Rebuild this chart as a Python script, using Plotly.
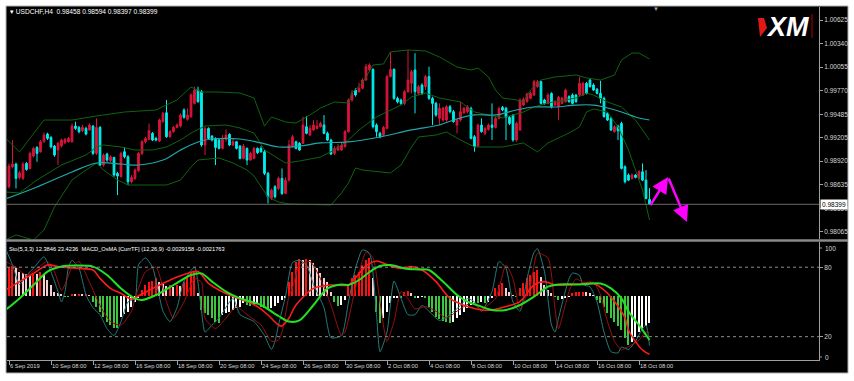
import plotly.graph_objects as go

# ---------------- data ----------------
bar_index = list(range(184))

opens = [
    0.98611, 0.98853, 0.98885, 0.98724, 0.98712, 0.98893, 0.98832, 0.98982, 0.99086, 0.99034,
    0.99155, 0.99248, 0.99207, 0.99102, 0.99054, 0.99102, 0.99143, 0.99155, 0.99155, 0.99344,
    0.99328, 0.99288, 0.99316, 0.99296, 0.99344, 0.99014, 0.99328, 0.98873, 0.99006, 0.98925,
    0.98965, 0.98772, 0.98732, 0.99034, 0.98973, 0.98671, 0.98712, 0.98804, 0.99014, 0.99155,
    0.99183, 0.99256, 0.99195, 0.99163, 0.99397, 0.99505, 0.99215, 0.99276, 0.99328, 0.99344,
    0.99538, 0.99425, 0.99457, 0.99618, 0.99779, 0.99759, 0.99115, 0.99316, 0.99223, 0.99195,
    0.99175, 0.99074, 0.99183, 0.99244, 0.99115, 0.99155, 0.99102, 0.98953, 0.99074, 0.98933,
    0.98953, 0.99074, 0.99074, 0.99034, 0.98772, 0.98470, 0.98611, 0.98591, 0.98712, 0.98530,
    0.98691, 0.99094, 0.99155, 0.99135, 0.99135, 0.99336, 0.99235, 0.99296, 0.99316, 0.99336,
    0.99356, 0.99256, 0.99175, 0.99014, 0.99054, 0.99054, 0.99094, 0.99276, 0.99659, 0.99779,
    0.99759, 0.99800, 0.99900, 1.00021, 1.00029, 0.99356, 0.99256, 0.99235, 0.99316, 0.99941,
    1.00029, 0.99679, 0.99659, 0.99618, 0.99759, 0.99860, 1.00021, 0.99739, 0.99840, 0.99820,
    0.99941, 0.99679, 0.99618, 0.99437, 0.99417, 0.99417, 0.99578, 0.99518, 0.99356, 0.99417,
    0.99505, 0.99518, 0.99558, 0.99215, 0.99102, 0.99356, 0.99256, 0.99304, 0.99356, 0.99328,
    0.99437, 0.99570, 0.99558, 0.99449, 0.99477, 0.99175, 0.99296, 0.99598, 0.99638, 0.99679,
    0.99719, 0.99820, 0.99880, 0.99659, 0.99618, 0.99739, 0.99598, 0.99578, 0.99618, 0.99638,
    0.99699, 0.99719, 0.99719, 0.99719, 0.99719, 0.99860, 0.99900, 0.99840, 0.99788, 0.99739,
    0.99679, 0.99497, 0.99437, 0.99276, 0.99344, 0.99376, 0.98853, 0.98752, 0.98712, 0.98752,
    0.98712, 0.98792, 0.98691, 0.98458,
]
closes = [
    0.98861, 0.98885, 0.98712, 0.98780, 0.98885, 0.98820, 0.99014, 0.99074, 0.99014, 0.99155,
    0.99235, 0.99195, 0.99094, 0.98994, 0.99135, 0.99175, 0.99183, 0.99195, 0.99344, 0.99316,
    0.99276, 0.99328, 0.99248, 0.99356, 0.99014, 0.99328, 0.98873, 0.98994, 0.98933, 0.98973,
    0.98752, 0.98740, 0.99014, 0.98973, 0.98671, 0.98724, 0.98812, 0.99014, 0.99155, 0.99195,
    0.99288, 0.99175, 0.99175, 0.99417, 0.99497, 0.99215, 0.99276, 0.99328, 0.99356, 0.99477,
    0.99449, 0.99477, 0.99719, 0.99779, 0.99638, 0.99115, 0.99316, 0.99195, 0.99175, 0.99086,
    0.99074, 0.99183, 0.99235, 0.99115, 0.99155, 0.99074, 0.98953, 0.99102, 0.98933, 0.99014,
    0.99074, 0.99022, 0.99034, 0.98772, 0.98490, 0.98570, 0.98490, 0.98712, 0.98530, 0.98691,
    0.99115, 0.99215, 0.99074, 0.99054, 0.99356, 0.99256, 0.99316, 0.99356, 0.99344, 0.99376,
    0.99256, 0.99175, 0.99006, 0.99074, 0.99094, 0.99115, 0.99276, 0.99659, 0.99739, 0.99719,
    0.99800, 0.99900, 1.00062, 1.00082, 0.99336, 0.99276, 0.99215, 0.99328, 0.99941, 1.00029,
    0.99679, 0.99638, 0.99618, 0.99759, 0.99900, 1.00001, 0.99759, 0.99820, 0.99739, 0.99941,
    0.99679, 0.99618, 0.99477, 0.99558, 0.99558, 0.99578, 0.99518, 0.99397, 0.99417, 0.99518,
    0.99558, 0.99578, 0.99195, 0.99094, 0.99356, 0.99276, 0.99316, 0.99356, 0.99328, 0.99437,
    0.99558, 0.99538, 0.99449, 0.99376, 0.99175, 0.99376, 0.99659, 0.99667, 0.99731, 0.99739,
    0.99880, 0.99880, 0.99618, 0.99618, 0.99719, 0.99578, 0.99638, 0.99691, 0.99679, 0.99779,
    0.99638, 0.99618, 0.99638, 0.99860, 0.99860, 0.99739, 0.99820, 0.99779, 0.99739, 0.99679,
    0.99457, 0.99417, 0.99296, 0.99336, 0.99288, 0.98832, 0.98671, 0.98691, 0.98752, 0.98724,
    0.98792, 0.98691, 0.98470, 0.98399,
]
highs = [
    0.98893, 0.99175, 0.98901, 0.98804, 0.98909, 0.98909, 0.99034, 0.99094, 0.99102, 0.99175,
    0.99264, 0.99264, 0.99223, 0.99115, 0.99155, 0.99191, 0.99199, 0.99215, 0.99376, 0.99397,
    0.99344, 0.99356, 0.99336, 0.99376, 0.99356, 0.99437, 0.99344, 0.99014, 0.99022, 0.98990,
    0.98973, 0.98792, 0.99034, 0.99086, 0.98994, 0.98752, 0.98832, 0.99034, 0.99175, 0.99215,
    0.99376, 0.99272, 0.99215, 0.99433, 0.99514, 0.99659, 0.99296, 0.99344, 0.99376, 0.99497,
    0.99558, 0.99558, 0.99739, 0.99820, 0.99820, 0.99779, 0.99336, 0.99328, 0.99235, 0.99207,
    0.99187, 0.99235, 0.99304, 0.99256, 0.99195, 0.99163, 0.99115, 0.99127, 0.99086, 0.99034,
    0.99094, 0.99086, 0.99102, 0.99054, 0.98792, 0.98591, 0.98631, 0.98732, 0.98832, 0.98724,
    0.99175, 0.99235, 0.99167, 0.99151, 0.99457, 0.99465, 0.99356, 0.99417, 0.99417, 0.99397,
    0.99477, 0.99276, 0.99191, 0.99102, 0.99127, 0.99143, 0.99296, 0.99679, 0.99779, 0.99800,
    0.99868, 0.99921, 1.00094, 1.00102, 1.00041, 0.99376, 0.99276, 0.99344, 0.99961, 1.00243,
    1.00041, 0.99699, 0.99675, 0.99779, 1.00263, 1.00021, 1.00223, 0.99840, 0.99860, 0.99961,
    1.00062, 0.99699, 0.99638, 0.99618, 0.99578, 0.99598, 0.99598, 0.99538, 0.99433, 0.99638,
    0.99578, 0.99598, 0.99578, 0.99235, 0.99376, 0.99437, 0.99336, 0.99376, 0.99618, 0.99457,
    0.99578, 0.99586, 0.99578, 0.99465, 0.99489, 0.99397, 0.99679, 0.99691, 0.99747, 0.99759,
    0.99900, 0.99900, 0.99892, 0.99675, 0.99739, 0.99751, 0.99659, 0.99707, 0.99699, 0.99796,
    0.99715, 0.99739, 0.99731, 0.99941, 0.99880, 0.99876, 0.99917, 0.99860, 0.99804, 0.99892,
    0.99699, 0.99514, 0.99457, 0.99356, 0.99360, 0.99397, 0.98869, 0.98772, 0.98772, 0.98764,
    0.98812, 0.98893, 0.98812, 0.98594,
]
lows = [
    0.98591, 0.98832, 0.98591, 0.98699, 0.98691, 0.98804, 0.98820, 0.98965, 0.98913, 0.99022,
    0.99143, 0.99175, 0.99074, 0.98973, 0.98873, 0.99086, 0.99127, 0.99143, 0.99143, 0.99296,
    0.99256, 0.99272, 0.99231, 0.99288, 0.98994, 0.98994, 0.98861, 0.98853, 0.98913, 0.98909,
    0.98732, 0.98510, 0.98724, 0.98953, 0.98631, 0.98651, 0.98691, 0.98792, 0.98994, 0.99135,
    0.99175, 0.99163, 0.99159, 0.99151, 0.99385, 0.99203, 0.99203, 0.99264, 0.99316, 0.99328,
    0.99433, 0.99409, 0.99445, 0.99606, 0.99626, 0.99094, 0.98994, 0.99183, 0.99159, 0.98873,
    0.99062, 0.99062, 0.99155, 0.99102, 0.99102, 0.99062, 0.98941, 0.98941, 0.98873, 0.98925,
    0.98941, 0.99006, 0.99022, 0.98752, 0.98409, 0.98450, 0.98470, 0.98570, 0.98510, 0.98522,
    0.98671, 0.99086, 0.99062, 0.99046, 0.99127, 0.99244, 0.99223, 0.99288, 0.99304, 0.99328,
    0.99244, 0.99163, 0.98994, 0.98994, 0.99042, 0.99046, 0.99086, 0.99264, 0.99638, 0.99699,
    0.99747, 0.99788, 0.99892, 1.00001, 0.99316, 0.99215, 0.99195, 0.99215, 0.99304, 0.99933,
    0.99659, 0.99618, 0.99598, 0.99598, 0.99747, 0.99739, 0.99497, 0.99719, 0.99719, 0.99779,
    0.99659, 0.99356, 0.99457, 0.99356, 0.99397, 0.99397, 0.99497, 0.99385, 0.99256, 0.99397,
    0.99489, 0.99497, 0.99183, 0.99034, 0.99094, 0.99264, 0.99235, 0.99288, 0.99175, 0.99316,
    0.99425, 0.99522, 0.99175, 0.99356, 0.99155, 0.99155, 0.99288, 0.99586, 0.99626, 0.99667,
    0.99707, 0.99808, 0.99606, 0.99602, 0.99606, 0.99558, 0.99586, 0.99417, 0.99606, 0.99626,
    0.99626, 0.99606, 0.99626, 0.99707, 0.99707, 0.99727, 0.99808, 0.99767, 0.99727, 0.99618,
    0.99445, 0.99405, 0.99284, 0.99264, 0.99175, 0.98820, 0.98651, 0.98679, 0.98699, 0.98712,
    0.98699, 0.98679, 0.98458, 0.98397,
]

# Bollinger-type envelope (dark green) and moving average (teal), read at sample bars
band_upper_x = [-1, 3, 10, 18, 25, 33, 42, 48, 52, 55, 60, 66, 70, 73, 75, 79, 82, 86, 89, 93, 97, 98,
                101, 104, 107, 109, 114, 119, 123, 128, 132, 134, 137, 139, 141, 145, 147, 149, 152,
                156, 162, 165, 169, 173, 175, 178, 180, 183]
band_upper = [0.99200, 0.99031, 0.99417, 0.99417, 0.99466, 0.99514, 0.99538, 0.99659, 0.99816, 0.99755,
              0.99755, 0.99743, 0.99683, 0.99345, 0.99454, 0.99393, 0.99381, 0.99478, 0.99562, 0.99635,
              0.99623, 0.99743, 0.99864, 1.00082, 1.00094, 1.00239, 1.00263, 1.00251, 1.00178, 1.00057,
              1.00021, 1.00045, 0.99937, 0.99780, 0.99683, 0.99659, 0.99635, 0.99780, 0.99900, 0.99937,
              0.99961, 0.99925, 0.99900, 0.99961, 1.00142, 1.00226, 1.00226, 1.00154]
band_mid_x = [-1, 3, 8, 15, 22, 25, 27, 32, 36, 41, 45, 49, 52, 56, 62, 66, 70, 73, 79, 83, 89, 93, 97,
              100, 105, 108, 112, 115, 119, 123, 129, 133, 141, 147, 150, 154, 162, 165, 167, 171, 175,
              179, 183]
band_mid = [0.98548, 0.98536, 0.98693, 0.98874, 0.98995, 0.99091, 0.99115, 0.99091, 0.99055, 0.99055,
            0.99091, 0.99176, 0.99260, 0.99345, 0.99357, 0.99321, 0.99260, 0.99055, 0.98898, 0.98922,
            0.98970, 0.99055, 0.99176, 0.99297, 0.99454, 0.99514, 0.99598, 0.99695, 0.99743, 0.99683,
            0.99635, 0.99514, 0.99442, 0.99514, 0.99574, 0.99623, 0.99683, 0.99743, 0.99719, 0.99635,
            0.99574, 0.99417, 0.99176]
band_lower_x = [-1, 2, 7, 10, 13, 18, 22, 25, 27, 31, 34, 45, 49, 52, 54, 60, 64, 68, 70, 74, 77, 80, 92,
                95, 97, 99, 101, 109, 112, 115, 117, 122, 125, 129, 133, 141, 147, 151, 154, 160, 163,
                165, 167, 171, 174, 177, 179, 181, 183]
band_lower = [0.97968, 0.98029, 0.97968, 0.98089, 0.98367, 0.98693, 0.98813, 0.98898, 0.98813, 0.98693,
              0.98632, 0.98632, 0.98693, 0.98850, 0.98934, 0.98958, 0.98898, 0.98813, 0.98741, 0.98487,
              0.98427, 0.98403, 0.98391, 0.98536, 0.98657, 0.98838, 0.98813, 0.98777, 0.98874, 0.99091,
              0.99212, 0.99236, 0.99272, 0.99176, 0.99091, 0.99091, 0.99140, 0.99031, 0.99140, 0.99260,
              0.99333, 0.99514, 0.99550, 0.99514, 0.99333, 0.99055, 0.98813, 0.98572, 0.98210]
ma_x = [-1, 8, 18, 25, 32, 37, 44, 49, 54, 58, 66, 72, 77, 83, 89, 97, 106, 115, 123, 127, 133, 139, 145,
        150, 156, 162, 167, 170, 175, 179, 183]
ma = [0.98463, 0.98608, 0.98789, 0.98898, 0.98886, 0.98874, 0.98934, 0.99055, 0.99152, 0.99188, 0.99188,
      0.99140, 0.99091, 0.99103, 0.99140, 0.99152, 0.99212, 0.99297, 0.99357, 0.99417, 0.99478, 0.99478,
      0.99538, 0.99574, 0.99574, 0.99598, 0.99598, 0.99574, 0.99514, 0.99454, 0.99417]

# MACD OsMA histogram (one value per bar)
osma = [
    0.00147, 0.00152, 0.00138, 0.00122, 0.00113, 0.00108, 0.00105, 0.00113, 0.00108, 0.00118,
    0.00108, 0.00080, 0.00055, 0.00022, 0.00013, 0.00008, -0.00002, -0.00003, 0.00008, 0.00007,
    0.00008, 0.00007, 0.00008, 0.00005, -0.00028, -0.00053, -0.00082, -0.00103, -0.00128, -0.00145,
    -0.00158, -0.00162, -0.00103, -0.00092, -0.00082, -0.00053, -0.00028, -0.00008, 0.00030, 0.00055,
    0.00072, 0.00075, 0.00088, 0.00072, 0.00058, 0.00052, 0.00055, 0.00047, 0.00055, 0.00052,
    0.00072, 0.00097, 0.00113, 0.00122, 0.00013, -0.00070, -0.00087, -0.00095, -0.00112, -0.00128,
    -0.00137, -0.00095, -0.00087, -0.00078, -0.00070, -0.00062, -0.00053, -0.00037, -0.00045, -0.00048,
    -0.00045, -0.00042, -0.00053, -0.00058, -0.00065, -0.00058, -0.00048, -0.00037, -0.00020, -0.00008,
    0.00072, 0.00122, 0.00172, 0.00185, 0.00180, 0.00185, 0.00180, 0.00163, 0.00138, 0.00113,
    0.00088, 0.00072, 0.00022, -0.00028, -0.00048, -0.00045, -0.00020, 0.00055, 0.00088, 0.00105,
    0.00122, 0.00155, 0.00180, 0.00188, 0.00088, -0.00078, -0.00137, -0.00112, -0.00078, -0.00037,
    -0.00012, -0.00008, -0.00012, 0.00018, 0.00025, 0.00013, -0.00012, -0.00008, -0.00003, -0.00012,
    -0.00053, -0.00078, -0.00103, -0.00115, -0.00125, -0.00132, -0.00137, -0.00132, -0.00112, -0.00095,
    -0.00078, -0.00062, -0.00045, -0.00037, -0.00037, -0.00028, -0.00037, -0.00028, -0.00012, 0.00038,
    0.00055, 0.00063, 0.00038, 0.00022, 0.00005, -0.00003, 0.00038, 0.00063, 0.00088, 0.00105,
    0.00122, 0.00130, 0.00097, 0.00055, 0.00030, 0.00013, -0.00003, -0.00020, -0.00017, -0.00012,
    -0.00003, 0.00013, 0.00018, 0.00022, 0.00022, 0.00018, 0.00013, 0.00005, -0.00020, -0.00037,
    -0.00053, -0.00087, -0.00112, -0.00132, -0.00148, -0.00170, -0.00212, -0.00245, -0.00228, -0.00203,
    -0.00178, -0.00158, -0.00148, -0.00137,
]
macd_x = [-1, 3, 7, 11, 14, 17, 20, 24, 26, 29, 32, 35, 38, 43, 47, 51, 54, 57, 60, 64, 68, 71, 74, 77,
          78, 80, 82, 87, 92, 97, 99, 102, 105, 109, 112, 115, 118, 122, 126, 131, 135, 138, 142, 146,
          150, 153, 156, 160, 162, 167, 170, 173, 176, 177, 179, 181, 183]
macd_main = [0.00030, 0.00072, 0.00113, 0.00155, 0.00147, 0.00142, 0.00138, 0.00130, 0.00088, 0.00038,
             0.00013, -0.00015, 0.00010, 0.00055, 0.00088, 0.00113, 0.00122, 0.00063, 0.00030, -0.00003,
             -0.00028, -0.00053, -0.00095, -0.00145, -0.00150, -0.00110, -0.00045, 0.00038, 0.00055,
             0.00055, 0.00090, 0.00150, 0.00175, 0.00150, 0.00138, 0.00147, 0.00130, 0.00072, -0.00012,
             -0.00053, -0.00070, -0.00070, -0.00053, -0.00028, 0.00055, 0.00072, 0.00055, 0.00055,
             0.00058, 0.00063, 0.00030, -0.00028, -0.00110, -0.00170, -0.00228, -0.00270, -0.00292]
signal_x = [-1, 3, 7, 11, 15, 19, 24, 28, 32, 36, 38, 42, 47, 52, 55, 58, 62, 66, 72, 77, 80, 83, 87, 91,
            95, 97, 100, 103, 106, 109, 113, 117, 120, 124, 128, 131, 135, 138, 142, 146, 150, 154, 157,
            163, 169, 172, 175, 177, 180, 182, 183]
macd_signal = [-0.00070, -0.00012, 0.00055, 0.00122, 0.00147, 0.00152, 0.00147, 0.00105, 0.00038,
               -0.00012, -0.00020, 0.00005, 0.00055, 0.00105, 0.00113, 0.00072, 0.00022, -0.00012,
               -0.00045, -0.00100, -0.00128, -0.00122, -0.00045, 0.00038, 0.00058, 0.00055, 0.00080,
               0.00120, 0.00150, 0.00155, 0.00138, 0.00133, 0.00130, 0.00072, 0.00005, -0.00028,
               -0.00053, -0.00070, -0.00070, -0.00045, -0.00003, 0.00047, 0.00058, 0.00058, 0.00062,
               0.00038, -0.00012, -0.00078, -0.00145, -0.00195, -0.00220]

# Stochastic (5,3,3)
stoch_x = [-1, 1, 3, 5, 7, 10, 12, 14, 15, 16, 17, 18, 20, 22, 24, 26, 28, 30, 32, 34, 36, 37, 39, 41,
           44, 46, 48, 50, 53, 55, 56, 58, 60, 64, 66, 70, 73, 75, 76, 77, 79, 81, 83, 85, 87, 90, 92,
           95, 97, 99, 101, 103, 105, 106, 108, 110, 112, 114, 116, 118, 120, 123, 126, 129, 131, 133,
           135, 138, 140, 142, 144, 146, 148, 150, 151, 153, 155, 156, 157, 160, 161, 163, 164, 166,
           168, 170, 172, 174, 175, 177, 179, 181, 182, 183]
stoch_main = [96, 82, 65, 73, 79, 89, 76, 59, 50, 59, 80, 86, 79, 56, 45, 39, 27, 21, 33, 50, 53, 82,
              88, 80, 42, 33, 45, 68, 80, 42, 24, 30, 36, 53, 39, 33, 21, 9, 16, 30, 55, 84, 86, 82, 65,
              45, 19, 21, 50, 79, 95, 92, 39, 7, 24, 68, 53, 39, 39, 47, 42, 34, 39, 47, 53, 50, 42, 59,
              85, 79, 50, 42, 70, 93, 96, 76, 30, 24, 36, 70, 75, 73, 65, 63, 50, 24, 7, 6, 11, 9, 16,
              27, 30, 12.4]
stoch_sig_x = [-1, 2, 5, 8, 11, 13, 15, 16, 18, 20, 23, 26, 29, 32, 35, 36, 39, 42, 45, 47, 50, 53, 55,
               56, 59, 62, 65, 68, 72, 75, 77, 78, 80, 81, 83, 86, 89, 92, 95, 96, 99, 102, 104, 106,
               108, 110, 112, 114, 116, 119, 122, 125, 128, 132, 135, 139, 142, 144, 146, 149, 151, 154,
               156, 157, 160, 162, 164, 167, 169, 171, 173, 175, 176, 178, 180, 182, 183]
stoch_signal = [85, 80, 73, 79, 85, 76, 60, 65, 80, 85, 67, 47, 33, 30, 42, 53, 76, 80, 50, 36, 50, 70,
                67, 36, 27, 36, 46, 39, 30, 16, 17, 24, 55, 62, 82, 85, 70, 47, 21, 24, 62, 93, 88, 50,
                16, 33, 59, 53, 44, 46, 42, 36, 42, 49, 44, 53, 82, 70, 44, 65, 92, 88, 44, 27, 59, 70,
                67, 67, 56, 33, 16, 8.5, 10, 13, 17, 24, 23.4]

time_tick_bars = [0, 12, 24, 36, 48, 60, 72, 84, 96, 108, 120, 132, 144, 156, 168, 180]
time_tick_labels = ["6 Sep 2019", "10 Sep 08:00", "12 Sep 08:00", "16 Sep 08:00", "18 Sep 08:00",
                    "20 Sep 08:00", "24 Sep 08:00", "26 Sep 08:00", "30 Sep 08:00", "2 Oct 08:00",
                    "4 Oct 08:00", "8 Oct 08:00", "10 Oct 08:00", "14 Oct 08:00", "16 Oct 08:00",
                    "18 Oct 08:00"]
price_ticks = [1.00625, 1.00340, 1.00055, 0.99770, 0.99485, 0.99205, 0.98920, 0.98635, 0.98350, 0.98065]
price_tick_labels = ["1.00625", "1.00340", "1.00055", "0.99770", "0.99485", "0.99205", "0.98920",
                     "0.98635", "0.98350", "0.98065"]
stoch_ticks = [20, 80]
stoch_edge_labels = ["100", "0"]
stoch_levels = [20, 80]
bid_price = 0.98399
arrow_path_x = [183, 188.3, 193.7]
arrow_path_y = [0.98370, 0.98729, 0.98185]

# ---------------- styling ----------------
W, H = 854, 381
UP, DN = "#dc143c", "#00f0f0"
BAND, MA = "#0f640f", "#1fa8aa"
FONT = "Liberation Sans"


def fx(px):
    return px / W


def fy(py):
    return 1 - py / H


X_RANGE = [-0.57, 231.43]
MAIN_Y = [0.97980, 1.00782]
OSMA_Y = [-0.0032, 0.0027]
STOCH_Y = [-0.17, 101.8]

osma_colors = []
for i, v in enumerate(osma):
    prev = osma[i - 1] if i > 0 else v
    if v >= 0:
        osma_colors.append("#ff1010" if v >= prev else "#f4d0d0")
    else:
        osma_colors.append("#3cc83c" if v <= prev else "#ffffff")

fig = go.Figure()
line_kw = dict(mode="lines", hoverinfo="skip", xaxis="x", yaxis="y")
fig.add_trace(go.Scatter(x=band_upper_x, y=band_upper, line=dict(color=BAND, width=1), **line_kw))
fig.add_trace(go.Scatter(x=band_mid_x, y=band_mid, line=dict(color=BAND, width=1), **line_kw))
fig.add_trace(go.Scatter(x=band_lower_x, y=band_lower, line=dict(color=BAND, width=1), **line_kw))
fig.add_trace(go.Scatter(x=ma_x, y=ma, line=dict(color=MA, width=1.2, shape="spline"), **line_kw))
fig.add_trace(go.Candlestick(
    x=bar_index, open=opens, high=highs, low=lows, close=closes,
    increasing=dict(line=dict(color=UP, width=1), fillcolor=UP),
    decreasing=dict(line=dict(color=DN, width=1), fillcolor=DN),
    whiskerwidth=0, xaxis="x", yaxis="y", hoverinfo="skip"))

fig.add_trace(go.Bar(x=bar_index, y=osma, width=0.45, marker=dict(color=osma_colors, line=dict(width=0)),
                     xaxis="x2", yaxis="y2", hoverinfo="skip"))
fig.add_trace(go.Scatter(x=stoch_x, y=stoch_main, mode="lines",
                         line=dict(color="#267c7c", width=1, shape="spline", smoothing=0.6),
                         xaxis="x2", yaxis="y3", hoverinfo="skip"))
fig.add_trace(go.Scatter(x=stoch_sig_x, y=stoch_signal, mode="lines",
                         line=dict(color="#9a1010", width=1, shape="spline", smoothing=0.6),
                         xaxis="x2", yaxis="y3", hoverinfo="skip"))
fig.add_trace(go.Scatter(x=macd_x, y=macd_main, mode="lines",
                         line=dict(color="#ff1a1a", width=1.6, shape="spline", smoothing=0.8),
                         xaxis="x2", yaxis="y4", hoverinfo="skip"))
fig.add_trace(go.Scatter(x=signal_x, y=macd_signal, mode="lines",
                         line=dict(color="#22e022", width=2, shape="spline", smoothing=0.8),
                         xaxis="x2", yaxis="y4", hoverinfo="skip"))

pricefont = dict(family=FONT, size=6.5, color="#d8d8d8")
timefont = dict(family=FONT, size=5.8, color="#d8d8d8")
fig.update_layout(
    width=W, height=H, margin=dict(l=0, r=0, t=0, b=0, autoexpand=False),
    paper_bgcolor="white", plot_bgcolor="black", showlegend=False,
    font=dict(family=FONT, size=7, color="#d8d8d8"),
    xaxis=dict(domain=[fx(7), fx(819)], range=X_RANGE, anchor="y", showticklabels=False, automargin=False,
               showgrid=False, zeroline=False, rangeslider=dict(visible=False), fixedrange=True),
    yaxis=dict(domain=[fy(239), fy(7)], range=MAIN_Y, anchor="x", side="right", automargin=False,
               tickvals=price_ticks, ticktext=price_tick_labels, ticks="outside", ticklen=3,
               tickcolor="#a0a0a0", tickfont=pricefont, showgrid=False, zeroline=False,
               showline=True, linecolor="#a0a0a0", linewidth=1),
    xaxis2=dict(domain=[fx(7), fx(819)], range=X_RANGE, anchor="y2", tickvals=time_tick_bars,
                ticktext=time_tick_labels, ticks="outside", ticklen=4, tickcolor="#a0a0a0",
                ticklabelposition="outside right", tickangle=0, automargin=False, tickfont=timefont,
                showgrid=False, zeroline=False, showline=True, linecolor="#a0a0a0", linewidth=1),
    yaxis2=dict(domain=[fy(360), fy(242)], range=OSMA_Y, anchor="x2", visible=False, automargin=False),
    yaxis3=dict(overlaying="y2", anchor="x2", range=STOCH_Y, side="right", tickvals=stoch_ticks,
                ticktext=[str(t) for t in stoch_ticks], ticks="outside", ticklen=3, tickcolor="#a0a0a0",
                tickfont=pricefont, showgrid=False, zeroline=False, showline=True, linecolor="#a0a0a0",
                linewidth=1, automargin=False),
    yaxis4=dict(overlaying="y2", anchor="x2", range=OSMA_Y, visible=False, automargin=False),
    bargap=0,
)

shapes = [
    dict(type="rect", xref="paper", yref="paper", x0=fx(6), x1=fx(848), y0=fy(373), y1=fy(6),
         fillcolor="black", line=dict(color="#b0b0b0", width=1), layer="below"),
    dict(type="line", xref="paper", yref="paper", x0=fx(6), x1=fx(848), y0=fy(240.5), y1=fy(240.5),
         line=dict(color="#8a8a8a", width=2.5)),
    dict(type="line", xref="x domain", yref="y", x0=0, x1=1, y0=bid_price, y1=bid_price,
         line=dict(color="#6a6a6a", width=1)),
    dict(type="line", xref="paper", yref="paper", x0=fx(812), x1=fx(812), y0=fy(38), y1=fy(14),
         line=dict(color="#b00000", width=1)),
    dict(type="path", xref="paper", yref="paper",
         path="M {} {} L {} {} L {} {} L {} {} Z".format(fx(758), fy(18), fx(764), fy(18), fx(767), fy(28),
                                                          fx(760), fy(37)),
         fillcolor="#e01818", line=dict(width=0)),
    # edge tick marks for the 100 / 0 stochastic labels
    dict(type="line", xref="paper", yref="paper", x0=fx(819), x1=fx(822), y0=fy(248), y1=fy(248),
         line=dict(color="#a0a0a0", width=1)),
    dict(type="line", xref="paper", yref="paper", x0=fx(819), x1=fx(822), y0=fy(357), y1=fy(357),
         line=dict(color="#a0a0a0", width=1)),
]
for lvl in stoch_levels:
    shapes.append(dict(type="line", xref="x2 domain", yref="y3", x0=0, x1=1, y0=lvl, y1=lvl,
                       line=dict(color="#8c8c8c", width=1, dash="dot")))
fig.update_layout(shapes=shapes)

annotations = [
    dict(xref="paper", yref="paper", x=fx(8), y=fy(12), xanchor="left", yanchor="middle", showarrow=False,
         text="▾ USDCHF,H4  0.98458 0.98594 0.98397 0.98399", font=dict(family=FONT, size=6.6, color="#ffffff")),
    dict(xref="paper", yref="paper", x=fx(7), y=fy(249), xanchor="left", yanchor="middle", showarrow=False,
         text="Sto(5,3,3) 12.3846 23.4236  MACD_OsMA [CurrTF] (12,26,9) -0.0029158 -0.0021763",
         font=dict(family=FONT, size=5.7, color="#ffffff")),
    dict(xref="paper", yref="paper", x=fx(787), y=fy(27), xanchor="center", yanchor="middle", showarrow=False,
         text="<b><i>XM</i></b>", font=dict(family=FONT, size=27, color="#ffffff")),
    dict(xref="paper", yref="paper", x=fx(656), y=fy(9), xanchor="center", yanchor="middle", showarrow=False,
         text="▼", font=dict(family=FONT, size=6, color="#a0a0a0")),
    dict(xref="paper", yref="y", x=fx(820), y=bid_price, xanchor="left", yanchor="middle", showarrow=False,
         text="0.98399", bgcolor="#ffffff", borderpad=1, font=dict(family=FONT, size=6.5, color="#000000")),
    dict(xref="paper", yref="paper", x=fx(823), y=fy(248), xanchor="left", yanchor="middle", showarrow=False,
         text=stoch_edge_labels[0], font=pricefont),
    dict(xref="paper", yref="paper", x=fx(823), y=fy(357), xanchor="left", yanchor="middle", showarrow=False,
         text=stoch_edge_labels[1], font=pricefont),
]
for k in range(len(arrow_path_x) - 1):
    annotations.append(dict(xref="x", yref="y", axref="x", ayref="y",
                            x=arrow_path_x[k + 1], y=arrow_path_y[k + 1],
                            ax=arrow_path_x[k], ay=arrow_path_y[k], text="", showarrow=True,
                            arrowhead=2, arrowsize=1.3, arrowwidth=2.5, arrowcolor="#ff00ff"))
fig.update_layout(annotations=annotations)

fig.write_html("out.html")
